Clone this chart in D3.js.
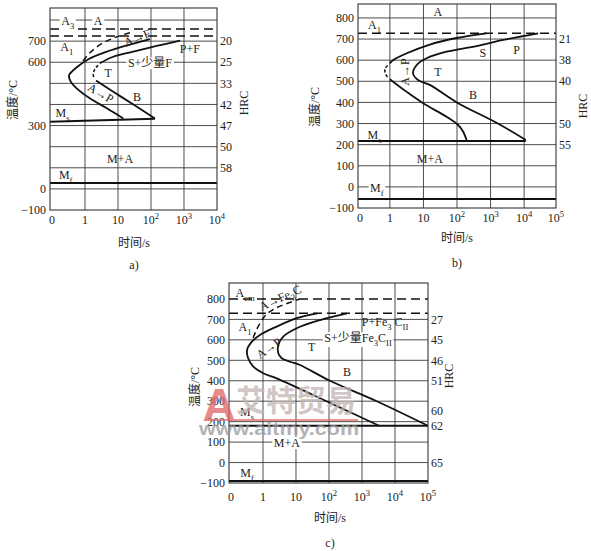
<!DOCTYPE html>
<html><head><meta charset="utf-8">
<script src="https://cdn.jsdelivr.net/npm/d3@7"></script>
<style>
body{margin:0;background:#fff}
svg{display:block}
text{font-family:"Liberation Serif","Noto Sans CJK SC",serif;fill:#222}
</style></head><body>
<svg id="c" width="591" height="551"></svg>
<script>
// ================= DATA =================
// ---- panel a) ----
const aYTicks=[700,600,300,0,-100];
const aXTicks=[0,1,10,100,1000,10000];
const aGridT=[800,700,600,500,400,300,200,100,0];
const aGridX=[1,10,100,1000];
const aCritT=[757,724];           // A3, A1 (dashed)
const aMf=28;
const aHRC=[[700,"20"],[600,"25"],[500,"33"],[400,"42"],[300,"47"],[200,"50"],[100,"58"]];
const aStart=[[93,709],[4.6,650],[1.23,613],[0.63,582],[0.43,560],[0.33,539],[0.37,508],[0.56,476],[1.4,429],[4.6,382],[14.5,334]];
const aFerrite=[[0.87,606],[1.41,645],[3.2,688],[9.1,720],[23,740]];
const aFinishUpper=[[760,702],[148,677],[29,650],[7.2,626],[2.8,595]];
const aFinishNose=[[2.5,585],[2.0,568],[1.78,545],[1.85,527]];
const aFinishLower=[[2.15,513],[14.5,430],[132,334]];
const aMs=[[0.087,318],[132,332]];
const aNotes=[["A_3",0.30,795],["A",2.5,795],["A_1",0.28,672],["A→F",38,716],["P+F",1500,663],["S+少量F",93,596],["T",5,549],["A→P",3.0,454],["B",38,435],["M_s",0.21,359],["M+A",11.5,142],["M_f",0.26,66]];

// ---- panel b) ----
const bYTicks=[800,700,600,500,400,300,200,100,0,-100];
const bXTicks=[0,1,10,100,1000,10000,100000];
const bGridT=[800,700,600,500,400,300,200,100,0];
const bGridX=[1,10,100,1000,10000];
const bCritT=[727];               // A1
const bMf=-57;
const bHRC=[[700,"21"],[600,"38"],[500,"40"],[300,"50"],[200,"55"]];
const bStartUpper=[[760,727],[97,705],[15.5,674],[3.2,633],[1.26,601],[1.0,585]];
const bStartNose=[[0.86,575],[0.72,560],[0.72,540],[0.85,520]];
const bStartLower=[[1.0,510],[3.1,451],[9.8,396],[49,332],[108,293],[153,261],[193,222]];
const bFinish=[[26300,727],[2390,696],[380,667],[49,640],[12.4,609],[6.3,577],[4.9,538],[6.9,506],[15.5,483],[99,400],[1650,300],[11200,222]];
const bMs=[[0.112,217],[11200,217]];
const bNotes=[["A",27,828],["A_1",0.35,767],["S",590,634],["P",6000,648],["T",27,544],["A→P",2.8,544],["B",300,435],["M_s",0.35,246],["M+A",15.5,132],["M_f",0.41,-5]];

// ---- panel c) ----
const cYTicks=[800,700,600,500,400,300,200,100,0,-100];
const cXTicks=[0,1,10,100,1000,10000,100000];
const cGridT=[700,600,500,400,300,200,100,0];
const cGridX=[1,10,100,1000,10000];
const cCritT=[800,730];           // Acm, A1
const cMf=-90;
const cHRC=[[700,"27"],[600,"45"],[500,"46"],[400,"51"],[255,"60"],[180,"62"],[0,"65"]];
const cStart=[[44,730],[10.5,706],[2.6,665],[0.81,624],[0.46,591],[0.33,551],[0.355,510],[0.51,469],[1.02,437],[2.6,412],[107,292],[3300,180]];
const cFinish=[[350,730],[54,697],[10.5,657],[4.1,616],[2.9,575],[2.9,534],[3.7,510],[6.6,493],[13.2,477],[107,400],[2800,300],[100000,180]];
const cCarbide=[[0.5,609],[0.6,640],[0.76,673],[1.23,722],[2.5,756],[5.8,780],[13.2,800]];
const cMs=[[0.093,180],[100000,180]];
const cNotes=[["A_{cm}",0.285,829],["A→Fe_3C",3.3,806],["A_1",0.285,663],["P+Fe_3 C_{II}",5000,688],["S+少量Fe_3C_{II}",760,609],["T",30,565],["A→P",1.5,560],["B",350,443],["M_s",0.33,247],["M+A",5.3,96],["M_f",0.33,-51]];

// ================= STYLE =================
const aStyle={"A_3":{bg:1},"A":{bg:1},"A→F":{rot:-22},"S+少量F":{bg:1},"A→P":{rot:30}};
const bStyle={"A→P":{rot:-90},"M_f":{bg:1}};
const cStyle={"A→Fe_3C":{rot:-25},"S+少量Fe_3C_{II}":{bg:1},"A→P":{rot:-35},"M+A":{bg:1}};

const svg=d3.select('#c');
const FS=12;

function rich(t,str,fs){
  const re=/_\{([^}]*)\}|_(.)|\^\{([^}]*)\}|\^(.)|([^_^]+)/g;
  let m,shift=0;
  while((m=re.exec(str))!==null){
    let txt,type;
    if(m[1]!==undefined||m[2]!==undefined){txt=m[1]!==undefined?m[1]:m[2];type='sub';}
    else if(m[3]!==undefined||m[4]!==undefined){txt=m[3]!==undefined?m[3]:m[4];type='sup';}
    else {txt=m[5];type='n';}
    const off=type==='sub'?fs*0.32:type==='sup'?-fs*0.42:0;
    t.append('tspan').attr('dy',off-shift).attr('font-size',type==='n'?fs:fs*0.72).text(txt);
    shift=off;
  }
}
function label(g,x,y,str,o={}){
  const fs=o.fs||FS;
  const gg=g.append('g').attr('transform',`translate(${x},${y})`+(o.rot?` rotate(${o.rot})`:''));
  const t=gg.append('text').attr('x',0).attr('y',fs*0.35).attr('text-anchor',o.anchor||'middle').attr('font-size',fs);
  if(o.weight) t.attr('font-weight',o.weight);
  if(o.fill) t.style('fill',o.fill);
  rich(t,str,fs);
  if(o.bg){
    const b=t.node().getBBox();
    gg.insert('rect','text').attr('x',b.x-1.5).attr('y',b.y+1).attr('width',b.width+3).attr('height',b.height-2).attr('fill','#fff');
  }
  return gg;
}

function drawPanel(p){
  const g=svg.append('g');
  const x=d3.scaleLog().domain(p.xDom).range(p.xR).clamp(true);
  const y=d3.scaleLinear().domain(p.yDom).range(p.yR);
  const X=v=>v===0?p.xR[0]:x(v);
  const [x0,x1]=p.xR,[yb,yt]=p.yR;
  g.selectAll(null).data(p.gridT).join('line')
    .attr('x1',x0).attr('x2',x1).attr('y1',d=>y(d)).attr('y2',d=>y(d))
    .attr('stroke','#3a3a3a').attr('stroke-width',0.9);
  g.selectAll(null).data(p.gridX).join('line')
    .attr('x1',d=>x(d)).attr('x2',d=>x(d)).attr('y1',yb).attr('y2',yt)
    .attr('stroke','#3a3a3a').attr('stroke-width',0.9);
  g.selectAll(null).data(p.crit).join('line')
    .attr('x1',x0).attr('x2',x1).attr('y1',d=>y(d)).attr('y2',d=>y(d))
    .attr('stroke','#111').attr('stroke-width',1.5).attr('stroke-dasharray','9,5');
  g.append('line').attr('x1',x0).attr('x2',x1).attr('y1',y(p.mf)).attr('y2',y(p.mf))
    .attr('stroke','#111').attr('stroke-width',2);
  g.append('path').attr('d',d3.line().x(d=>x(d[0])).y(d=>y(d[1]))(p.ms))
    .attr('fill','none').attr('stroke','#111').attr('stroke-width',1.9);
  const ln=d3.line().x(d=>x(d[0])).y(d=>y(d[1])).curve(d3.curveCatmullRom.alpha(0.5));
  p.curves.forEach(c=>{
    g.append('path').attr('d',ln(c.d)).attr('fill','none').attr('stroke','#111')
      .attr('stroke-width',c.dash?1.5:1.8).attr('stroke-dasharray',c.dash||null);
  });
  g.append('rect').attr('x',x0).attr('y',yt).attr('width',x1-x0).attr('height',yb-yt)
    .attr('fill','none').attr('stroke','#333').attr('stroke-width',1.1);
  p.yTicks.forEach(v=>label(g,x0-4,y(v),v<0?'−'+(-v):String(v),{anchor:'end'}));
  p.xTicks.forEach(v=>{
    const s=v===0?'0':v===1?'1':v===10?'10':'10^{'+Math.round(Math.log10(v))+'}';
    label(g,X(v)+(v===0?2:0),p.xLabY,s);
  });
  p.hrc.forEach(h=>label(g,x1+3,y(h[0]),h[1],{anchor:'start'}));
  p.notes.forEach(n=>{
    const st=p.style[n[0]]||{};
    label(g,x(n[1]),y(n[2]),n[0],st);
  });
  label(g,p.yTitle[0],p.yTitle[1],'温度/°C',{rot:-90});
  label(g,p.hrcTitle[0],p.hrcTitle[1],'HRC',{rot:-90});
  label(g,p.xTitle[0],p.xTitle[1],'时间/s');
  label(g,p.cap[0],p.cap[1],p.capText);
  return {g,x,y};
}

drawPanel({
  xDom:[Math.pow(10,-1.06),1e4],xR:[50,217],yDom:[-100,857],yR:[210,8],
  gridT:aGridT,gridX:aGridX,crit:aCritT,mf:aMf,ms:aMs,
  curves:[{d:aStart},{d:aFerrite,dash:'6,4'},{d:aFinishUpper},{d:aFinishNose,dash:'3,2'},{d:aFinishLower}],
  yTicks:aYTicks,xTicks:aXTicks,xLabY:220,hrc:aHRC,notes:aNotes,style:aStyle,
  yTitle:[13,100],hrcTitle:[244,103],xTitle:[134,243],cap:[134,265],capText:'a)'
});
drawPanel({
  xDom:[Math.pow(10,-0.95),Math.pow(10,4.95)],xR:[358,556],yDom:[-100,866],yR:[208,4],
  gridT:bGridT,gridX:bGridX,crit:bCritT,mf:bMf,ms:bMs,
  curves:[{d:bStartUpper},{d:bStartNose,dash:'3,2'},{d:bStartLower},{d:bFinish}],
  yTicks:bYTicks,xTicks:bXTicks,xLabY:218,hrc:bHRC,notes:bNotes,style:bStyle,
  yTitle:[315,107],hrcTitle:[583,106],xTitle:[457,238],cap:[457,263],capText:'b)'
});
drawPanel({
  xDom:[Math.pow(10,-1.03),1e5],xR:[229,428],yDom:[-100,878],yR:[483,283],
  gridT:cGridT,gridX:cGridX,crit:cCritT,mf:cMf,ms:cMs,
  curves:[{d:cStart},{d:cFinish},{d:cCarbide,dash:'6,4'}],
  yTicks:cYTicks,xTicks:cXTicks,xLabY:497,hrc:cHRC,notes:cNotes,style:cStyle,
  yTitle:[195,387],hrcTitle:[449,376],xTitle:[330,518],cap:[330,543],capText:'c)'
});

// watermark over panel c
const wm=svg.append('g').attr('opacity',0.75);
wm.append('line').attr('x1',206).attr('x2',358).attr('y1',420).attr('y2',420).attr('stroke','#e27070').attr('stroke-width',2.2);
wm.append('text').attr('x',219).attr('y',421).attr('text-anchor','middle').attr('font-size',46)
  .attr('font-weight','bold').style('font-family','"Liberation Sans",sans-serif').style('fill','#e06464').text('A');
wm.append('text').attr('x',296).attr('y',411).attr('text-anchor','middle').attr('font-size',30)
  .attr('font-weight','bold').style('font-family','"Noto Sans CJK SC",sans-serif').style('fill','#c2b4b4').text('艾特贸易');
wm.append('text').attr('x',199).attr('y',435).attr('font-size',18).attr('textLength',160).attr('lengthAdjust','spacingAndGlyphs')
  .attr('font-weight','bold').style('font-family','"Liberation Sans",sans-serif').style('fill','#9a9a9a').text('www.aitmy.com');
</script>
</body></html>
